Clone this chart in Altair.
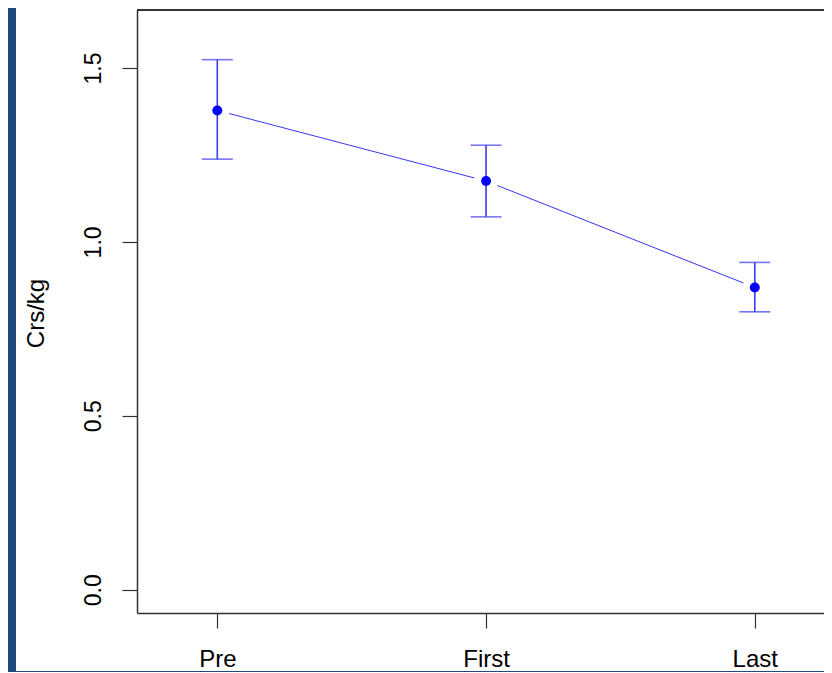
import altair as alt
import pandas as pd

# ---- data ----
groups = ["Pre", "First", "Last"]
means = [1.378, 1.175, 0.869]
lower = [1.238, 1.072, 0.799]
upper = [1.524, 1.278, 0.941]
y_ticks = [0.0, 0.5, 1.0, 1.5]

df = pd.DataFrame({
    "idx": list(range(len(groups))),
    "group": groups,
    "mean": means,
    "lo": lower,
    "hi": upper,
})

W, H = 687, 603
XDOM = [-0.2988, 2.2575]
YDOM = [-0.067, 1.6668]
FONT = "Liberation Sans"
AXC = "#333333"
BLUE_LINE = "#3535f5"
BLUE_BAR = "#3a3aee"

label_expr = "[" + ",".join(f"'{g}'" for g in groups) + "][datum.value]"

xscale = alt.Scale(domain=XDOM, nice=False, zero=False)
yscale = alt.Scale(domain=YDOM, nice=False, zero=False)

x_axis = alt.Axis(values=list(range(len(groups))), labelExpr=label_expr, title=None,
                  grid=False, tickSize=15, tickWidth=1.2, labelPadding=38,
                  labelBaseline="alphabetic", labelFontSize=24, labelFont=FONT,
                  labelColor="black", domainColor=AXC, domainWidth=1.5, tickColor=AXC,
                  labelFlush=False, labelOverlap=False, zindex=2)
y_axis = alt.Axis(values=y_ticks, format=".1f", title="Crs/kg", grid=False,
                  tickSize=15, tickWidth=1.2, labelPadding=22, labelAngle=270,
                  labelAlign="center", labelBaseline="alphabetic", labelFontSize=23,
                  labelFont=FONT, labelColor="black", domainColor=AXC, domainWidth=1.5,
                  tickColor=AXC, labelFlush=False, labelOverlap=False,
                  titleFont=FONT, titleFontSize=24, titleFontWeight="normal",
                  titleColor="black", titleAngle=270, titleAlign="center",
                  titleBaseline="alphabetic", titleX=-94, titleY=303, zindex=2)

X = alt.X("idx:Q", scale=xscale, axis=x_axis)
Y = alt.Y("mean:Q", scale=yscale, axis=y_axis)

base = alt.Chart(df)

panel = base.mark_rect(color="white").encode(
    x=alt.value(-121), x2=alt.value(W + 40), y=alt.value(-12), y2=alt.value(H + 58)
)
line = base.mark_line(color=BLUE_LINE, strokeWidth=1).encode(x=X, y=Y)
top_frame = base.mark_rule(color=AXC, strokeWidth=1.5).encode(
    y=alt.datum(YDOM[1], scale=yscale, axis=y_axis)
)
halo = base.mark_circle(size=600, color="white", opacity=1).encode(x=X, y=Y)
bars = base.mark_rule(color=BLUE_BAR, strokeWidth=1.6).encode(
    x=X, y=alt.Y("lo:Q", scale=yscale, axis=y_axis), y2="hi:Q"
)
cap_lo = base.mark_tick(orient="horizontal", size=31, thickness=1.6, color=BLUE_BAR).encode(
    x=X, y=alt.Y("lo:Q", scale=yscale, axis=y_axis)
)
cap_hi = base.mark_tick(orient="horizontal", size=31, thickness=1.6, color=BLUE_BAR).encode(
    x=X, y=alt.Y("hi:Q", scale=yscale, axis=y_axis)
)
points = base.mark_circle(size=100, color="#0000ff", opacity=1).encode(x=X, y=Y)

chart = alt.layer(panel, line, top_frame, halo, bars, cap_lo, cap_hi, points).properties(
    width=W, height=H,
    background="#1f4a7c",
    padding={"left": 129, "top": 2, "right": 0, "bottom": 59},
    autosize=alt.AutoSizeParams(type="none"),
).configure_view(stroke="transparent")

chart.save("out.html", embed_options={"renderer": "svg", "actions": False})
